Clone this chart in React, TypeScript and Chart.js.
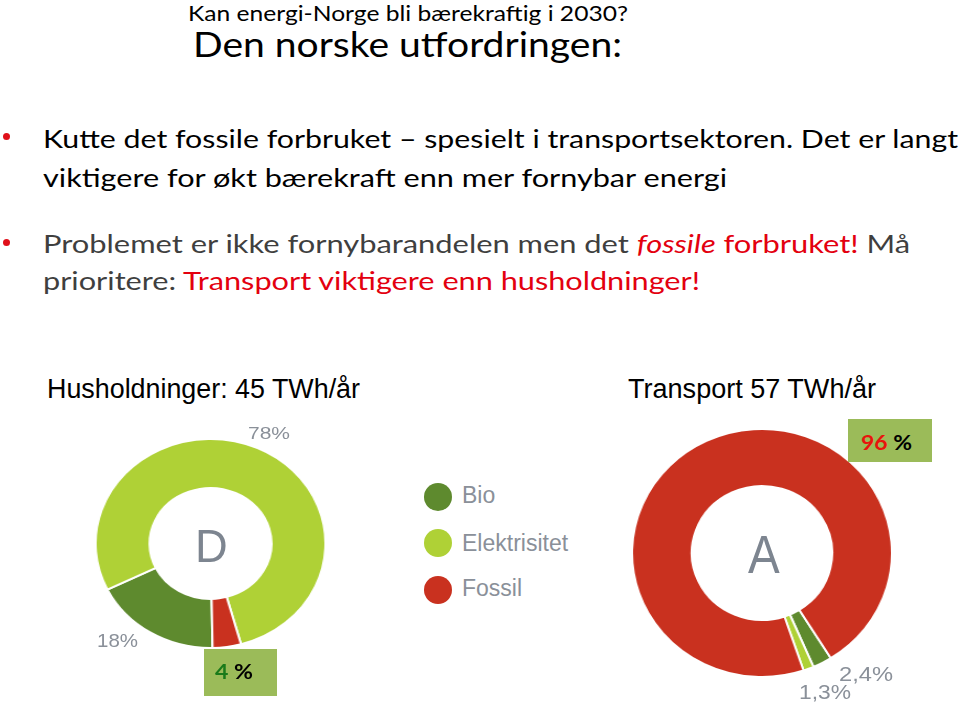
import React, { useEffect, useLayoutEffect, useRef } from "react";
import { Chart, registerables } from "chart.js";

Chart.register(...registerables);

// ---- data ----
const categories = ["Bio", "Elektrisitet", "Fossil"];
const householdShares = [18, 78, 4];
const transportShares = [2.4, 1.3, 96];
const sectorTitles = ["Husholdninger: 45 TWh/år", "Transport 57 TWh/år"];
const sliceColors = ["#5e8a2e", "#afd136", "#c9311f"];

const fmt = (v: number) => String(v).replace(".", ",") + "%";

const CAL = "Lato, 'Open Sans', sans-serif";
const ARIAL = "'Liberation Sans', Arial, sans-serif";
const GRAY = "#8a9099";

type TxtProps = {
  x: number;
  base: number;
  w?: number;
  size: number;
  font?: string;
  color?: string;
  weight?: number | string;
  children?: React.ReactNode;
};

function Txt({ x, base, w, size, font = CAL, color = "#000", weight = 400, children }: TxtProps) {
  const ref = useRef<HTMLDivElement>(null);
  const mk = useRef<HTMLSpanElement>(null);
  useLayoutEffect(() => {
    const fit = () => {
      const el = ref.current;
      const m = mk.current;
      if (!el || !m) return;
      el.style.transform = "none";
      const nat = el.getBoundingClientRect().width;
      el.style.top = base - m.offsetTop + "px";
      if (w && nat > 0) el.style.transform = `scaleX(${w / nat})`;
    };
    fit();
    const f: any = (document as any).fonts;
    if (f && f.ready) f.ready.then(fit);
  }, []);
  return (
    <div
      ref={ref}
      style={{
        position: "absolute",
        left: x,
        top: base - size,
        width: "max-content",
        whiteSpace: "nowrap",
        fontSize: size,
        lineHeight: `${Math.round(size)}px`,
        fontFamily: font,
        fontWeight: weight as any,
        color,
        transformOrigin: "0 0",
      }}
    >
      {children}
      <span ref={mk} style={{ display: "inline-block", width: 0, height: 0, verticalAlign: "baseline" }} />
    </div>
  );
}

type DonutProps = {
  values: number[];
  cx: number;
  cy: number;
  diameter: number;
  stretch: number;
  rotation: number;
  cutout: string;
};

function Donut({ values, cx, cy, diameter, stretch, rotation, cutout }: DonutProps) {
  const ref = useRef<HTMLCanvasElement>(null);
  const border = 2;
  const S = diameter + border;
  useEffect(() => {
    if (!ref.current) return;
    const chart = new Chart(ref.current, {
      type: "doughnut",
      data: {
        labels: categories,
        datasets: [
          {
            data: values,
            backgroundColor: sliceColors,
            borderColor: "#ffffff",
            borderWidth: border,
            hoverOffset: 0,
          } as any,
        ],
      },
      options: {
        responsive: true,
        maintainAspectRatio: false,
        animation: false,
        events: [],
        rotation,
        cutout,
        layout: { padding: 0 },
        plugins: { legend: { display: false }, tooltip: { enabled: false } },
      } as any,
    });
    return () => chart.destroy();
  }, []);
  return (
    <div
      style={{
        position: "absolute",
        left: cx - S / 2,
        top: cy - S / 2,
        width: S,
        height: S,
        transform: `scaleX(${stretch})`,
        transformOrigin: "50% 50%",
      }}
    >
      <canvas ref={ref} />
    </div>
  );
}

export default function App() {
  const legendY = [496.7, 543.3, 590];
  const legendBase = [503.3, 550.7, 596];
  return (
    <div
      style={{
        position: "absolute",
        left: 0,
        top: 0,
        width: 960,
        height: 707,
        overflow: "hidden",
        background: "#fff",
      }}
    >
      {/* headings */}
      <Txt x={188} base={20.5} w={440} size={22}>Kan energi-Norge bli bærekraftig i 2030?</Txt>
      <Txt x={193} base={57} w={429} size={34}>Den norske utfordringen:</Txt>

      {/* bullets */}
      <div style={{ position: "absolute", left: 3.2, top: 133.2, width: 7, height: 7, borderRadius: "50%", background: "#e0101a" }} />
      <div style={{ position: "absolute", left: 3.2, top: 239.2, width: 7, height: 7, borderRadius: "50%", background: "#e0101a" }} />
      <Txt x={43} base={148} w={915} size={25.5}>
        Kutte det fossile forbruket – spesielt i transportsektoren. Det er langt
      </Txt>
      <Txt x={43} base={187} w={684} size={25.5}>viktigere for økt bærekraft enn mer fornybar energi</Txt>
      <Txt x={43} base={253} w={867} size={25.5} color="#3f3f3f">
        Problemet er ikke fornybarandelen men det{" "}
        <span style={{ color: "#e3000f", fontStyle: "italic" }}>fossile</span>{" "}
        <span style={{ color: "#e3000f" }}>forbruket!</span> Må
      </Txt>
      <Txt x={43} base={290} w={657} size={25.5} color="#3f3f3f">
        prioritere: <span style={{ color: "#e3000f" }}>Transport viktigere enn husholdninger!</span>
      </Txt>

      {/* chart titles */}
      <Txt x={46.7} base={398.3} w={313} size={27} font={ARIAL}>{sectorTitles[0]}</Txt>
      <Txt x={628} base={398.3} w={248} size={27} font={ARIAL}>{sectorTitles[1]}</Txt>

      {/* doughnuts */}
      <Donut values={householdShares} cx={210.7} cy={543.3} diameter={209} stretch={1.1} rotation={179} cutout="53%" />
      <Donut values={transportShares} cx={761.7} cy={552.5} diameter={248} stretch={1.048} rotation={148} cutout="54%" />

      {/* center letters */}
      <Txt x={195} base={561.7} w={32.7} size={46} font={ARIAL} color="#7d8590">D</Txt>
      <Txt x={748.3} base={573.3} w={31.7} size={54} font={ARIAL} color="#7d8590">A</Txt>

      {/* slice labels */}
      <Txt x={248} base={439} w={42} size={16} font={ARIAL} color={GRAY}>{fmt(householdShares[1])}</Txt>
      <Txt x={97} base={647} w={41} size={19} font={ARIAL} color={GRAY}>{fmt(householdShares[0])}</Txt>
      <Txt x={839} base={681} w={54} size={20} font={ARIAL} color={GRAY}>{fmt(transportShares[0])}</Txt>
      <Txt x={799} base={699} w={52} size={20} font={ARIAL} color={GRAY}>{fmt(transportShares[1])}</Txt>

      {/* highlight boxes */}
      <div style={{ position: "absolute", left: 204, top: 649, width: 73, height: 47, background: "#9bbb59" }} />
      <Txt x={215} base={679.3} w={38} size={21} weight={700}>
        <span style={{ color: "#1a7a1a" }}>{householdShares[2]}</span> %
      </Txt>
      <div style={{ position: "absolute", left: 848, top: 419, width: 84, height: 43, background: "#9bbb59" }} />
      <Txt x={861} base={450} w={51} size={21} weight={700}>
        <span style={{ color: "#e8140c" }}>{transportShares[2]}</span> %
      </Txt>

      {/* legend */}
      {categories.map((c, i) => (
        <React.Fragment key={c}>
          <div
            style={{
              position: "absolute",
              left: 438.3 - 14,
              top: legendY[i] - 14,
              width: 28,
              height: 28,
              borderRadius: "50%",
              background: sliceColors[i],
            }}
          />
          <Txt x={462} base={legendBase[i]} size={23} font={ARIAL} color={GRAY}>{c}</Txt>
        </React.Fragment>
      ))}
    </div>
  );
}
